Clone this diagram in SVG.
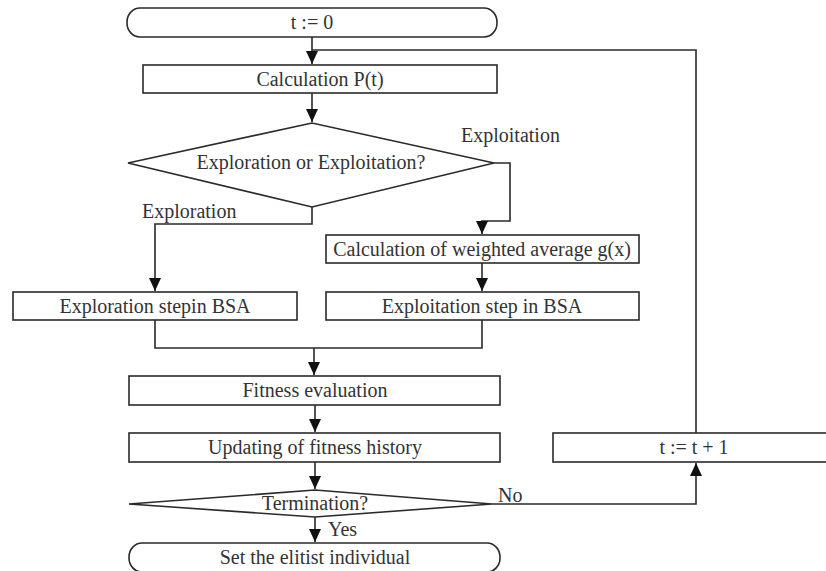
<svg xmlns="http://www.w3.org/2000/svg" width="826" height="571" viewBox="0 0 826 571">
<defs>
<style>
.n{fill:#fff;stroke:#2a2a2a;stroke-width:1.6}
.c{fill:none;stroke:#2a2a2a;stroke-width:1.6}
text{font-family:"Liberation Serif","Times New Roman",serif;font-size:20px;fill:#333}
.m{text-anchor:middle}
</style>
<marker id="a" markerUnits="userSpaceOnUse" markerWidth="14" markerHeight="12" viewBox="0 0 14 12" refX="13" refY="6" orient="auto">
<path d="M0,0 L13,6 L0,12 Z" fill="#111"/>
</marker>
</defs>
<rect width="826" height="571" fill="#fff"/>
<g id="connectors">
<path class="c" d="M312,37 V64" marker-end="url(#a)"/>
<path class="c" d="M696,433 V50 H312"/>
<path class="c" d="M312,93 V122" marker-end="url(#a)"/>
<path class="c" d="M494,163 H510 V221 H482 V234" marker-end="url(#a)"/>
<path class="c" d="M312,207 V224 H155 V291" marker-end="url(#a)"/>
<path class="c" d="M482,263 V291" marker-end="url(#a)"/>
<path class="c" d="M155,320 V348 H482 V320"/>
<path class="c" d="M314,348 V375" marker-end="url(#a)"/>
<path class="c" d="M315,405 V432" marker-end="url(#a)"/>
<path class="c" d="M315,462 V489" marker-end="url(#a)"/>
<path class="c" d="M492,504 H696 V463" marker-end="url(#a)"/>
<path class="c" d="M315,517 V542" marker-end="url(#a)"/>
<text x="461" y="142">Exploitation</text>
<text x="142" y="218">Exploration</text>
<text x="498" y="502">No</text>
<text x="328" y="536">Yes</text>
</g>
<g id="start">
<rect class="n" x="127" y="8" width="370" height="29" rx="13" ry="14"/>
<text class="m" x="312" y="29">t := 0</text>
</g>
<g id="calc-p">
<rect class="n" x="143" y="65" width="354" height="28"/>
<text class="m" x="320" y="86">Calculation P(t)</text>
</g>
<g id="decision-explore">
<polygon class="n" points="128,163 312,123 494,163 312,207"/>
<text class="m" x="311" y="169">Exploration or Exploitation?</text>
</g>
<g id="weighted-average">
<rect class="n" x="326" y="235" width="313" height="28"/>
<text class="m" x="482" y="256">Calculation of weighted average g(x)</text>
</g>
<g id="exploration-step">
<rect class="n" x="13" y="292" width="284" height="28"/>
<text class="m" x="155" y="313">Exploration stepin BSA</text>
</g>
<g id="exploitation-step">
<rect class="n" x="326" y="292" width="313" height="28"/>
<text class="m" x="482" y="313">Exploitation step in BSA</text>
</g>
<g id="fitness-evaluation">
<rect class="n" x="129" y="376" width="371" height="29"/>
<text class="m" x="315" y="397">Fitness evaluation</text>
</g>
<g id="fitness-history">
<rect class="n" x="129" y="433" width="371" height="29"/>
<text class="m" x="315" y="454">Updating of fitness history</text>
</g>
<g id="termination">
<polygon class="n" points="129,504 315,490 492,504 315,517"/>
<text class="m" x="315" y="510">Termination?</text>
</g>
<g id="increment">
<rect class="n" x="553" y="433" width="280" height="29"/>
<text class="m" x="694" y="454">t := t + 1</text>
</g>
<g id="end">
<rect class="n" x="129" y="543" width="371" height="29" rx="13" ry="14"/>
<text class="m" x="315" y="564">Set the elitist individual</text>
</g>
</svg>
